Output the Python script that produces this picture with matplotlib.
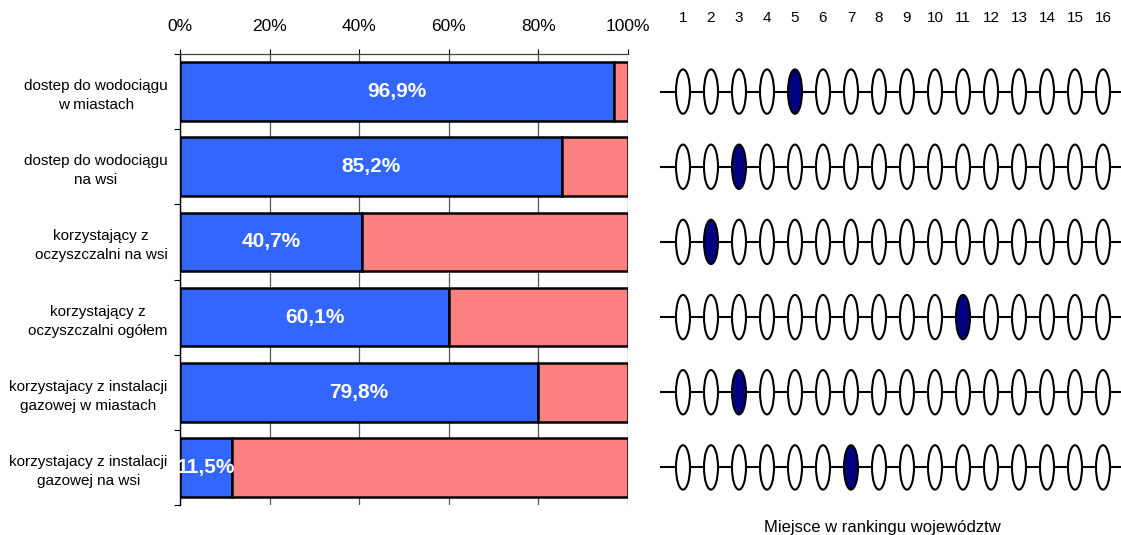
import numpy as np
import matplotlib
matplotlib.use('Agg')
import matplotlib.pyplot as plt
from matplotlib.patches import Ellipse
from matplotlib.ticker import FixedLocator

plt.rcParams['font.family'] = ['Liberation Sans', 'DejaVu Sans']

# Data
categories = [
    "dostep do wodociągu\nw miastach",
    "dostep do wodociągu\nna wsi",
    "korzystający z\noczyszczalni na wsi",
    "korzystający z\noczyszczalni ogółem",
    "korzystajacy z instalacji\ngazowej w miastach",
    "korzystajacy z instalacji\ngazowej na wsi",
]
shares = [96.9, 85.2, 40.7, 60.1, 79.8, 11.5]
ranks = [5, 3, 2, 11, 3, 7]
rank_positions = list(range(1, 17))
pct_ticks = [0, 20, 40, 60, 80, 100]
pct_labels = ['0%', '20%', '40%', '60%', '80%', '100%']

BLUE = '#3366FF'
PINK = '#FF8080'
NAVY = '#000080'

W, H = 1121, 535
fig = plt.figure(figsize=(W / 100, H / 100), dpi=100)

# left panel: stacked percent bars
ax = fig.add_axes([180 / W, 1 - 505 / H, (628 - 180) / W, (505 - 54) / H])
y = np.arange(len(categories))
shares = np.array(shares)
ax.barh(y, shares, height=0.78, color=BLUE, edgecolor='black', linewidth=1.8, zorder=3)
ax.barh(y, 100 - shares, left=shares, height=0.78, color=PINK, edgecolor='black',
        linewidth=1.8, zorder=3)
for yi, v in zip(y, shares):
    ax.text(v / 2, yi, f"{v:.1f}%".replace('.', ','), ha='center', va='center',
            color='white', fontsize=15, fontweight='bold', zorder=4)

ax.set_xlim(0, 100)
ax.set_ylim(len(categories) - 0.5, -0.5)
ax.xaxis.tick_top()
ax.set_xticks(pct_ticks)
ax.set_xticklabels(pct_labels, fontsize=12.5)
ax.tick_params(axis='x', direction='out', length=3.6, width=0.8, pad=11)
ax.grid(axis='x', color='#555555', linewidth=0.9, zorder=0)
ax.yaxis.set_major_locator(FixedLocator(np.arange(-0.5, len(categories), 1.0)))
ax.yaxis.set_minor_locator(FixedLocator(y))
ax.set_yticklabels([], minor=False)
ax.set_yticklabels(categories, minor=True, fontsize=11, ha='right',
                   multialignment='center', linespacing=1.45)
ax.tick_params(axis='y', which='major', direction='out', length=4, width=0.8)
ax.tick_params(axis='y', which='minor', length=0, pad=9)
ax.spines['right'].set_visible(False)
ax.spines['bottom'].set_visible(False)
ax.spines['left'].set_linewidth(1.0)
ax.spines['top'].set_linewidth(0.9)
ax.spines['top'].set_color('#444444')

# right panel: ranking among voivodeships
ax2 = fig.add_axes([660 / W, 1 - 505 / H, (W - 660) / W, (505 - 54) / H])
x_lo, x_hi = 0.179, 16.643
ax2.set_xlim(x_lo, x_hi)
ax2.set_ylim(len(categories) - 0.5, -0.5)
for yi, r in zip(y, ranks):
    ax2.plot([x_lo, x_hi], [yi, yi], color='black', linewidth=1.5, zorder=1)
    for p in rank_positions:
        face = NAVY if p == r else 'white'
        ax2.add_patch(Ellipse((p, yi), width=0.5, height=0.59, facecolor=face,
                              edgecolor='black', linewidth=1.5, zorder=2))
ax2.xaxis.tick_top()
ax2.set_xticks(rank_positions)
ax2.set_xticklabels([str(p) for p in rank_positions], fontsize=11)
ax2.tick_params(axis='x', length=0, pad=21)
ax2.set_yticks([])
for s in ax2.spines.values():
    s.set_visible(False)

fig.text(882 / W, 1 - 532 / H, "Miejsce w rankingu województw", ha='center',
         va='baseline', fontsize=12)

fig.savefig('out.png', dpi=100)
